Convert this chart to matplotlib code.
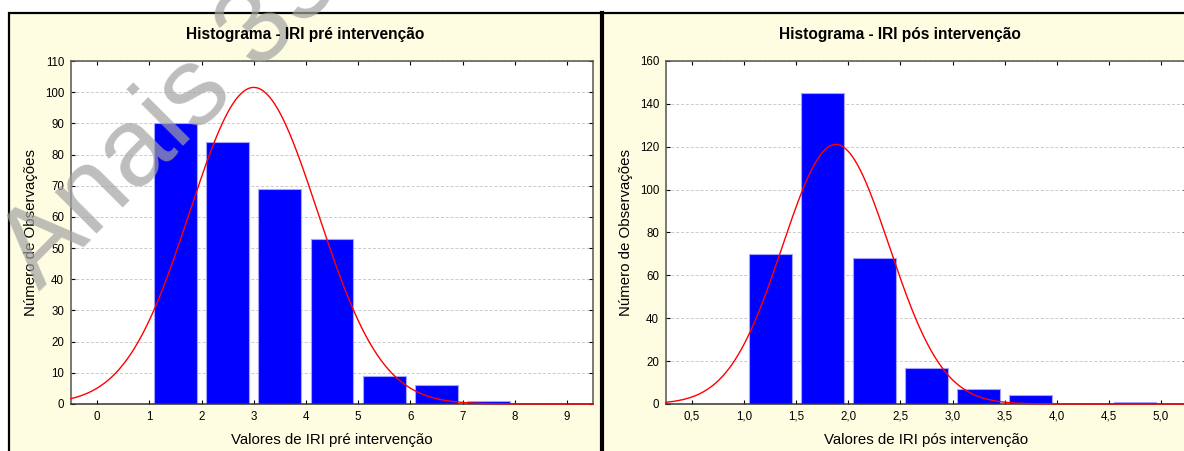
import numpy as np
import matplotlib.pyplot as plt
from matplotlib.patches import Rectangle
from matplotlib.lines import Line2D

plt.rcParams['font.family'] = ['Liberation Sans', 'DejaVu Sans']

# histogram pre intervention (bins of width 1)
pre_bins = [0, 1, 2, 3, 4, 5, 6, 7, 8]
pre_counts = [0, 90, 84, 69, 53, 9, 6, 1, 0]
pre_mean = 3.0
pre_sd = 1.226
pre_xticks = [0, 1, 2, 3, 4, 5, 6, 7, 8, 9]
pre_xlabels = ['0', '1', '2', '3', '4', '5', '6', '7', '8', '9']
pre_yticks = [0, 10, 20, 30, 40, 50, 60, 70, 80, 90, 100, 110]

# histogram pos intervention (bins of width 0.5)
pos_bins = [0.5, 1.0, 1.5, 2.0, 2.5, 3.0, 3.5, 4.0, 4.5]
pos_counts = [0, 70, 145, 68, 17, 7, 4, 0, 1]
pos_mean = 1.88
pos_sd = 0.514
pos_xticks = [0.5, 1.0, 1.5, 2.0, 2.5, 3.0, 3.5, 4.0, 4.5, 5.0]
pos_xlabels = ['0,5', '1,0', '1,5', '2,0', '2,5', '3,0', '3,5', '4,0', '4,5', '5,0']
pos_yticks = [0, 20, 40, 60, 80, 100, 120, 140, 160]

W, H = 1184, 451
cream = '#FFFDE1'

fig = plt.figure(figsize=(W / 100, H / 100), dpi=100)
fig.patch.set_facecolor('white')


def px(x, y):
    # pixel coords (top-left origin) -> figure fraction
    return x / W, 1 - y / H


# the two cream panels with black frame
for x0, x1 in [(9, 602), (602, 1196)]:
    fx0, fy0 = px(x0, 470)
    fx1, fy1 = px(x1, 13)
    fig.add_artist(Rectangle((fx0, fy0), fx1 - fx0, fy1 - fy0, transform=fig.transFigure,
                             facecolor=cream, edgecolor='black', lw=1.6, zorder=0))
# thick separator between panels
fig.add_artist(Line2D([602 / W, 602 / W], [0, 1 - 13 / H], transform=fig.transFigure,
                      color='black', lw=3.0, zorder=1))


def draw_hist(ax, bins, counts, width, mean, sd, xlim, ylim, xticks, xlabels, yticks, xlabel):
    ax.set_facecolor('white')
    centers = np.array(bins) + width / 2
    ax.bar(centers, counts, width=width * 0.82, color='#0000FF', edgecolor='#A4A4FF',
           lw=0.8, zorder=2)
    n = sum(counts)
    xs = np.linspace(xlim[0], xlim[1], 400)
    ys = n * width / (sd * np.sqrt(2 * np.pi)) * np.exp(-0.5 * ((xs - mean) / sd) ** 2)
    ax.plot(xs, ys, color='#FF0000', lw=1.0, zorder=3, clip_on=False)
    ax.set_xlim(xlim)
    ax.set_ylim(ylim)
    ax.set_xticks(xticks)
    ax.set_xticklabels(xlabels)
    ax.set_yticks(yticks)
    ax.tick_params(direction='in', length=3, width=0.8, top=True, right=True,
                   labelsize=8.3, pad=5, colors='black')
    ax.yaxis.grid(True, color='#CACACA', linestyle=(0, (3, 2)), lw=0.7, zorder=1)
    ax.set_axisbelow(True)
    for s in ax.spines.values():
        s.set_color('#555555')
        s.set_linewidth(1.1)
    ax.spines['bottom'].set_color('#333333')
    ax.set_xlabel(xlabel, fontsize=10.8, labelpad=7)
    ax.set_ylabel('Número de Observações', fontsize=10.8, labelpad=5)


ax1 = fig.add_axes([71 / W, 47 / H, 522 / W, 343 / H])
draw_hist(ax1, pre_bins, pre_counts, 1.0, pre_mean, pre_sd, (-0.5, 9.5), (0, 110),
          pre_xticks, pre_xlabels, pre_yticks, 'Valores de IRI pré intervenção')

ax2 = fig.add_axes([666 / W, 47 / H, 521 / W, 343 / H])
draw_hist(ax2, pos_bins, pos_counts, 0.5, pos_mean, pos_sd, (0.25, 5.25), (0, 160),
          pos_xticks, pos_xlabels, pos_yticks, 'Valores de IRI pós intervenção')

fig.text(*px(305, 35), 'Histograma - IRI pré intervenção', ha='center', va='center',
         fontsize=11.2, fontweight='bold', zorder=20)
fig.text(*px(900, 35), 'Histograma - IRI pós intervenção', ha='center', va='center',
         fontsize=11.2, fontweight='bold', zorder=20)

# watermark
fig.text(*px(172, 118), 'Anais 35', ha='center', va='center', rotation=45,
         rotation_mode='anchor', fontsize=80, color='#A2A2A2', alpha=0.7, zorder=10)

fig.savefig('out.png', dpi=100)
plt.close()
